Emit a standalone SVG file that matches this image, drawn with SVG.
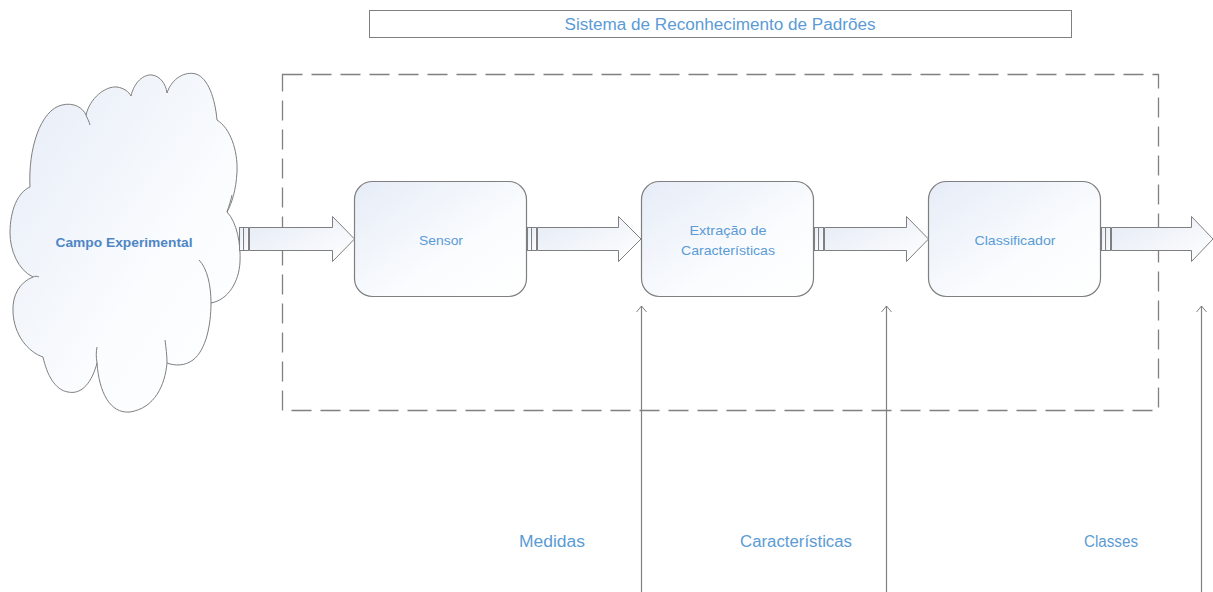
<svg xmlns="http://www.w3.org/2000/svg" width="1213" height="592" viewBox="0 0 1213 592">
<defs>
<linearGradient id="g" x1="0" y1="0" x2="1" y2="1">
<stop offset="0" stop-color="#e6ecf7"/>
<stop offset="0.6" stop-color="#fafcfe"/>
<stop offset="1" stop-color="#ffffff"/>
</linearGradient>
<linearGradient id="ga" x1="0" y1="0" x2="1" y2="1">
<stop offset="0" stop-color="#e4eaf5"/>
<stop offset="1" stop-color="#ffffff"/>
</linearGradient>
<marker id="open" markerWidth="12" markerHeight="12" refX="7" refY="6" orient="auto" markerUnits="userSpaceOnUse" viewBox="0 0 12 12">
<path d="M1,1 L7,6 L1,11" fill="none" stroke="#808080" stroke-width="1"/>
</marker>
</defs>
<style>
.lbl{font-family:"Liberation Sans",Arial,sans-serif;fill:#5b9bd5;text-anchor:middle}
.node{fill:url(#g);stroke:#7f7f7f;stroke-width:1.2}
.barrow{fill:url(#ga);stroke:#7f7f7f;stroke-width:1}
.vline{stroke:#808080;stroke-width:1.2;fill:none}
</style>
<rect width="1213" height="592" fill="#ffffff"/>

<g id="title">
<rect x="369.5" y="10.5" width="702" height="27" fill="#ffffff" stroke="#7f7f7f" stroke-width="1"/>
<text class="lbl" x="720" y="30" font-size="16" textLength="311" lengthAdjust="spacingAndGlyphs">Sistema de Reconhecimento de Padrões</text>
</g>

<g id="boundary">
<rect x="282.5" y="74.5" width="876" height="336" fill="none" stroke="#808080" stroke-width="1.3" stroke-dasharray="20,9"/>
</g>

<g id="cloud">
<path d="M30,187 C28,150 40,110 62,105 C74,102 83,108 86,115 C90,98 105,86 117,87 C124,88 129,92 131,96 C134,82 144,74 152,75 C160,76 166,84 167,93 C172,78 185,71 196,74 C208,78 215,98 217,120 C230,128 238,150 237,172 C236,190 232,203 227,212 C237,222 241,245 240,262 C239,282 228,300 211,303 C211,325 206,350 193,360 C185,366 175,366 167,363 C165,385 155,408 130,412 C110,414 99,392 97,363 C92,382 82,395 68,392 C55,390 47,375 43,357 C28,352 14,335 13,312 C12,295 20,282 33,277 C18,270 10,250 10,233 C10,210 18,192 30,187 Z" fill="url(#g)" stroke="#7f7f7f" stroke-width="1"/>
<path d="M86,115 C87,118 89,121 90,125 M227,212 C229,206 231,200 232,195 M199,260 C207,268 211,285 211,303 M165,340 C166,348 167,355 167,363 M97,363 C96,357 96,352 97,347 M33,277 C35,276 37,276 39,277" fill="none" stroke="#7f7f7f" stroke-width="1"/>
<text class="lbl" x="124" y="247" font-size="13" font-weight="bold" style="fill:#4f86c4" textLength="137" lengthAdjust="spacingAndGlyphs">Campo Experimental</text>
</g>

<g id="sensor">
<rect class="node" x="354.5" y="181.5" width="172" height="115" rx="18"/>
<text class="lbl" x="441" y="245" font-size="13" textLength="44" lengthAdjust="spacingAndGlyphs">Sensor</text>
</g>

<g id="extracao">
<rect class="node" x="641.5" y="181.5" width="172" height="115" rx="18"/>
<text class="lbl" x="728" y="235" font-size="13" textLength="77" lengthAdjust="spacingAndGlyphs">Extração de</text>
<text class="lbl" x="728" y="255" font-size="13" textLength="94" lengthAdjust="spacingAndGlyphs">Características</text>
</g>

<g id="classificador">
<rect class="node" x="928.5" y="181.5" width="172" height="115" rx="18"/>
<text class="lbl" x="1015" y="245" font-size="13" textLength="81" lengthAdjust="spacingAndGlyphs">Classificador</text>
</g>

<g id="connectors">
<g id="a1">
<rect class="barrow" x="239.5" y="227.5" width="4" height="23"/>
<rect class="barrow" x="243.5" y="227.5" width="5" height="23"/>
<path class="barrow" d="M249.5,227.5 H332.5 V216.5 L354.5,239 L332.5,261.5 V250.5 H249.5 Z"/>
</g>
<g id="a2">
<rect class="barrow" x="527.5" y="227.5" width="4" height="23"/>
<rect class="barrow" x="531.5" y="227.5" width="5" height="23"/>
<path class="barrow" d="M537.5,227.5 H618.5 V216.5 L641,239 L618.5,261.5 V250.5 H537.5 Z"/>
</g>
<g id="a3">
<rect class="barrow" x="814.5" y="227.5" width="4" height="23"/>
<rect class="barrow" x="818.5" y="227.5" width="5" height="23"/>
<path class="barrow" d="M824.5,227.5 H906.5 V216.5 L928.5,239 L906.5,261.5 V250.5 H824.5 Z"/>
</g>
<g id="a4">
<rect class="barrow" x="1101.5" y="227.5" width="4" height="23"/>
<rect class="barrow" x="1105.5" y="227.5" width="5" height="23"/>
<path class="barrow" d="M1111.5,227.5 H1191.5 V216.5 L1213,239 L1191.5,261.5 V250.5 H1111.5 Z"/>
</g>
<line class="vline" x1="641.5" y1="592" x2="641.5" y2="306" marker-end="url(#open)"/>
<line class="vline" x1="886.5" y1="592" x2="886.5" y2="306" marker-end="url(#open)"/>
<line class="vline" x1="1201.5" y1="592" x2="1201.5" y2="306" marker-end="url(#open)"/>
</g>

<g id="labels">
<text class="lbl" x="552" y="547" font-size="16" textLength="66" lengthAdjust="spacingAndGlyphs">Medidas</text>
<text class="lbl" x="796" y="547" font-size="16" textLength="112" lengthAdjust="spacingAndGlyphs">Características</text>
<text class="lbl" x="1111" y="547" font-size="16" textLength="54" lengthAdjust="spacingAndGlyphs">Classes</text>
</g>
</svg>
